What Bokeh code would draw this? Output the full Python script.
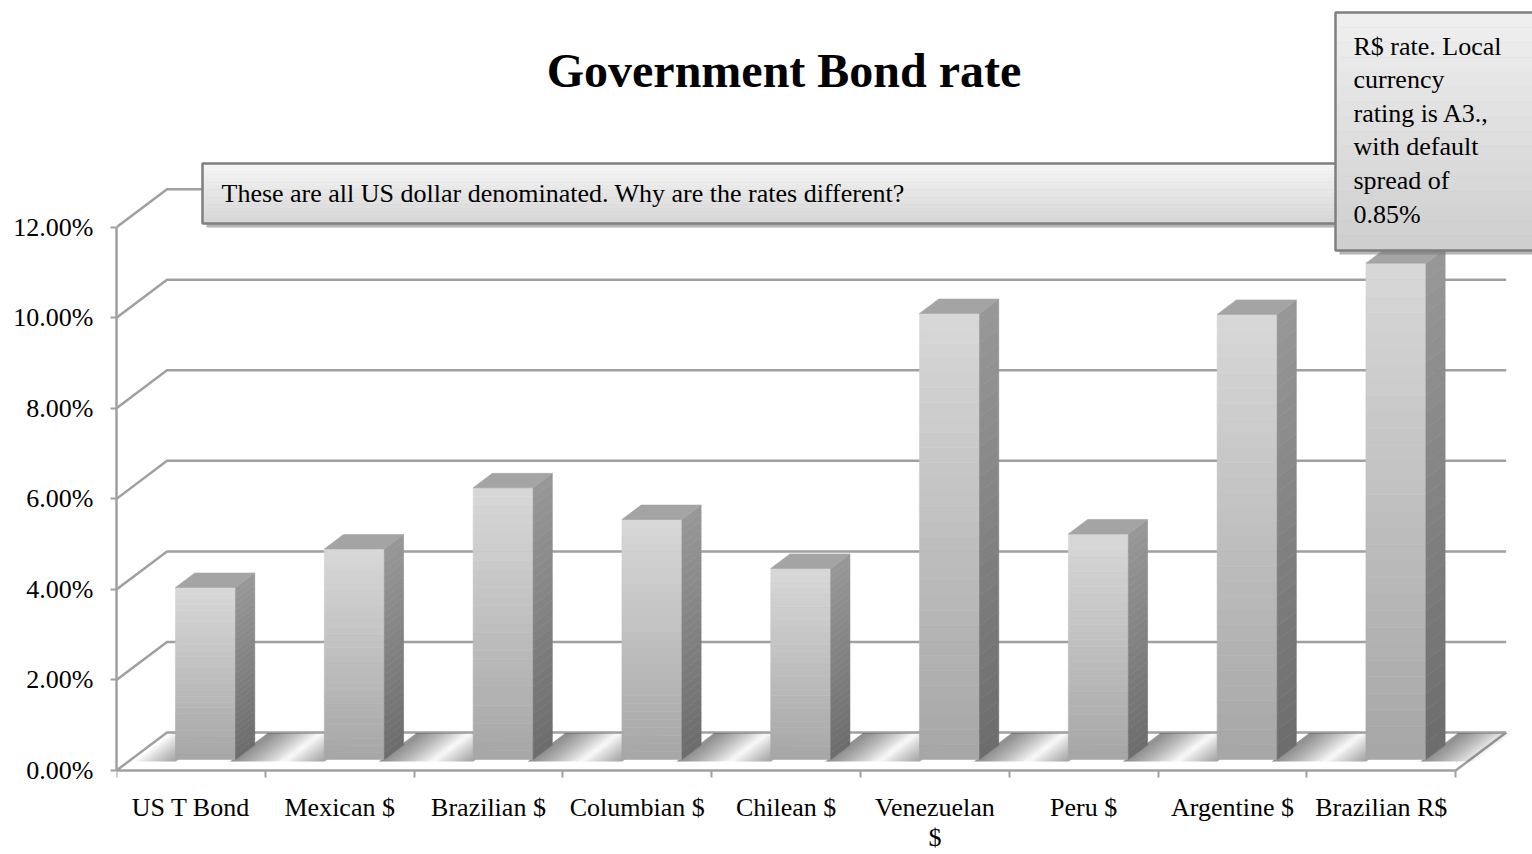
from bokeh.plotting import figure
from bokeh.models import Range1d, FixedTicker, PrintfTickFormatter, Label
from bokeh.embed import file_html
from bokeh.resources import INLINE

# ---------------- data ----------------
categories = ["US T Bond", "Mexican $", "Brazilian $", "Columbian $", "Chilean $",
              "Venezuelan $", "Peru $", "Argentine $", "Brazilian R$"]
tick_labels = ["US T Bond", "Mexican $", "Brazilian $", "Columbian $", "Chilean $",
               "Venezuelan\n$", "Peru $", "Argentine $", "Brazilian R$"]
rates = [3.80, 4.65, 6.00, 5.30, 4.22, 9.85, 4.98, 9.83, 10.96]   # percent
y_ticks = [0, 2, 4, 6, 8, 10, 12]
title_text = "Government Bond rate"
note_main = "These are all US dollar denominated. Why are the rates different?"
note_real = "R$ rate. Local\ncurrency\nrating is A3.,\nwith default\nspread of\n0.85%"

# ---------------- geometry (styles / layout) ----------------
W, H = 1532, 854
PXX, PXY = 148.8, 45.28          # pixels per category / per percent
X0_REF, Y0_REF = 116, 770          # pixel of data origin
LEFT = 116
DX, DY = 50.5 / PXX, 38.0 / PXY    # depth of the 3D box
F1, FD = 0.29, 0.38                # bar front position / bar depth (fractions)
BW = 60.0 / PXX
n = len(categories)
FONT = "Liberation Serif"


def fx(px):
    return (px - X0_REF) / PXX


def fy(py):
    return (Y0_REF - py) / PXY


def grey(v):
    v = int(round(v))
    return "#%02x%02x%02x" % (v, v, v)


p = figure(width=W, height=H, output_backend="svg", toolbar_location=None,
           x_range=Range1d(0, fx(W)), y_range=Range1d(fy(H), fy(0)),
           min_border_left=LEFT, min_border_right=0, min_border_top=0, min_border_bottom=0,
           outline_line_color=None)
p.grid.visible = False

# ---- axes ----
xa = p.xaxis[0]
xa.fixed_location = 0
xa.ticker = FixedTicker(ticks=[i + 0.5 for i in range(n)], minor_ticks=list(range(n + 1)))
xa.major_label_overrides = {i + 0.5: tick_labels[i] for i in range(n)}
xa.bounds = (0, n)
xa.axis_line_color = "#a0a0a0"
xa.axis_line_width = 2.5
xa.major_tick_line_color = None
xa.major_tick_out = 0
xa.major_tick_in = 0
xa.minor_tick_line_color = "#a0a0a0"
xa.minor_tick_line_width = 2
xa.minor_tick_out = 7
xa.minor_tick_in = 0
xa.major_label_standoff = 15
xa.major_label_text_font = FONT
xa.major_label_text_font_size = "26px"
xa.major_label_text_color = "black"
xa.major_label_text_line_height = 1.05

ya = p.yaxis[0]
ya.ticker = FixedTicker(ticks=y_ticks, minor_ticks=[])
ya.formatter = PrintfTickFormatter(format="%.2f%%")
ya.bounds = (0, 12)
ya.axis_line_color = "#a0a0a0"
ya.axis_line_width = 2.5
ya.major_tick_line_color = "#a0a0a0"
ya.major_tick_line_width = 2
ya.major_tick_out = 6
ya.major_tick_in = 0
ya.major_label_standoff = 17
ya.major_label_text_font = FONT
ya.major_label_text_font_size = "26px"
ya.major_label_text_color = "black"

# ---- back wall grid lines + floor ----
gx = [[0, DX, n + DX] for t in y_ticks] + [[n, n + DX]]
gy = [[t, t + DY, t + DY] for t in y_ticks] + [[0, DY]]
p.multi_line(gx, gy, line_color="#a0a0a0", line_width=2.5)

# ---- floor shadows (nested translucent layers, no seams) ----
sxs, sys_, salpha = [], [], []
fa, fb = F1 - 0.05, 0.98
NS = 12
for i in range(n):
    ul = i + 0.5 - BW / 2
    ur = ul + BW
    for k in range(1, NS + 1):
        a0 = ul - 0.26 * k / NS
        a1 = ul + 0.02
        sxs.append([a0 + fa * DX, a1 + fa * DX, a1 + fb * DX, a0 + fb * DX])
        sys_.append([fa * DY, fa * DY, fb * DY, fb * DY])
        salpha.append(0.03)
    for k in range(1, NS + 1):
        a0 = ur - 0.02
        a1 = ur + 0.34 * k / NS
        sxs.append([a0 + fa * DX, a1 + fa * DX, a1 + fb * DX, a0 + fb * DX])
        sys_.append([fa * DY, fa * DY, fb * DY, fb * DY])
        salpha.append(0.045)
p.patches(sxs, sys_, fill_color="black", fill_alpha=salpha, line_color=None)

# ---- 3D bars (strip gradients) ----
N = 30
fl, fr, fb_, ft, fc = [], [], [], [], []
sx, sy, sc = [], [], []
tx, ty = [], []
ddx, ddy = FD * DX, FD * DY
for i, v in enumerate(rates):
    x0 = i + 0.5 + F1 * DX - BW / 2
    x1 = x0 + BW
    yb = F1 * DY
    for k in range(N):
        b = yb + v * k / N
        t = yb + v * (k + 1) / N
        frac = (k + 0.5) / N
        fl.append(x0); fr.append(x1); fb_.append(b); ft.append(t)
        fc.append(grey(166 + (216 - 166) * frac))
        sx.append([x1, x1 + ddx, x1 + ddx, x1])
        sy.append([b, b + ddy, t + ddy, t])
        sc.append(grey(108 + (152 - 108) * frac))
    tx.append([x0, x1, x1 + ddx, x0 + ddx])
    ty.append([yb + v, yb + v, yb + v + ddy, yb + v + ddy])

p.quad(left=fl, right=fr, bottom=fb_, top=ft, fill_color=fc, line_color=fc, line_width=0.6)
p.patches(sx, sy, fill_color=sc, line_color=sc, line_width=0.6)
p.patches(tx, ty, fill_color="#a4a4a4", line_color="#a4a4a4", line_width=0.6)


# ---- callout boxes ----
def callout(l, r, t, b, top_c, bot_c):
    sh = 4
    p.quad(left=[fx(l + sh)], right=[fx(r + sh)], top=[fy(t + sh)], bottom=[fy(b + sh)],
           fill_color="#7a7a7a", fill_alpha=0.55, line_color=None)
    M = 16
    ls, rs, ts, bs, cs = [], [], [], [], []
    for k in range(M):
        y_top = t + (b - t) * k / M
        y_bot = t + (b - t) * (k + 1) / M
        ls.append(fx(l)); rs.append(fx(r)); ts.append(fy(y_top)); bs.append(fy(y_bot))
        cs.append(grey(top_c + (bot_c - top_c) * (k + 0.5) / M))
    p.quad(left=ls, right=rs, top=ts, bottom=bs, fill_color=cs, line_color=cs, line_width=0.6)
    p.quad(left=[fx(l)], right=[fx(r)], top=[fy(t)], bottom=[fy(b)],
           fill_color=None, line_color="#7f7f7f", line_width=2.5)


callout(202, 1345, 163, 223, 246, 214)
callout(1335, 1560, 12, 250, 240, 206)

p.add_layout(Label(x=fx(221), y=fy(193), text=note_main, text_font=FONT,
                   text_font_size="26px", text_color="black",
                   text_align="left", text_baseline="middle"))
p.add_layout(Label(x=fx(1353), y=fy(31), text=note_real, text_font=FONT,
                   text_font_size="26px", text_color="black", text_line_height=1.16,
                   text_align="left", text_baseline="top"))
p.add_layout(Label(x=fx(783.5), y=fy(70), text=title_text, text_font=FONT,
                   text_font_size="48px", text_font_style="bold", text_color="black",
                   text_align="center", text_baseline="middle"))

open("out.html", "w").write(file_html(p, INLINE))
